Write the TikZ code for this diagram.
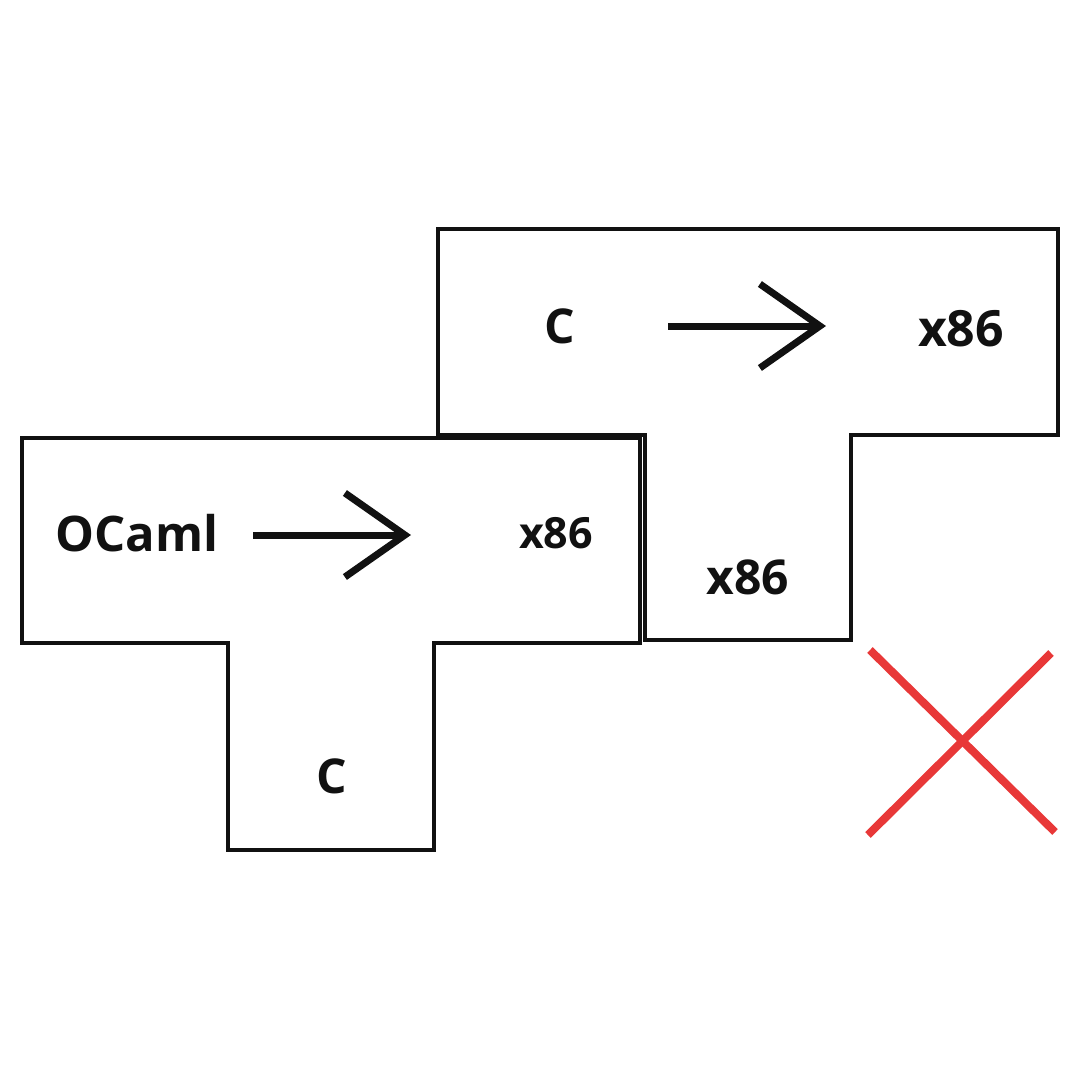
\documentclass[tikz,border=0pt]{standalone}
\usepackage{fontspec}
\setsansfont{Open Sans}
\usepackage{tikz}
\usetikzlibrary{arrows.meta}
\definecolor{ink}{RGB}{17,17,17}
\definecolor{cross}{RGB}{232,56,56}

\begin{document}
\begin{tikzpicture}[x=1pt, y=-1pt]
  \tikzset{
    tee/.style={draw=ink, line width=3.5pt, line join=miter},
    lang/.style={font=\sffamily\bfseries\fontsize{48}{52}\selectfont, text=ink, inner sep=0pt},
    into/.style={draw=ink, line width=7pt, -{Straight Barb[length=60pt, width=84pt, line width=7pt]}},
    nope/.style={draw=cross, line width=8pt}}

  \useasboundingbox (0,0) rectangle (1080,1080);

  % --- the C compiler written in x86 (behind)
  \draw[tee] (438,229) -- (1058,229) -- (1058,435) -- (851,435) -- (851,640)
    -- (645,640) -- (645,435) -- (438,435) -- cycle;
  \node[lang] (csrc) at (560,326) {C};
  \node[lang, font=\sffamily\bfseries\fontsize{50}{54}\selectfont] (cout) at (961,329) {x86};
  \node[lang] (cimpl) at (748,577) {x86};
  \coordinate (ca) at (668,326);
  \coordinate (cb) at (826,326);
  \draw[into] (ca) -- (cb);

  % --- the OCaml compiler written in C (front)
  \draw[tee, fill=white] (22,438) -- (640,438) -- (640,643) -- (434,643) -- (434,850)
    -- (228,850) -- (228,643) -- (22,643) -- cycle;
  \node[lang, font=\sffamily\bfseries\fontsize{49}{53}\selectfont] (osrc) at (137,533) {OCaml};
  \node[lang, font=\sffamily\bfseries\fontsize{43}{47}\selectfont] (oout) at (556,533) {x86};
  \node[lang] (oimpl) at (332,776) {C};
  \coordinate (oa) at (253,535);
  \coordinate (ob) at (411,535);
  \draw[into] (oa) -- (ob);

  % --- not allowed
  \coordinate (x1) at (870,650);
  \coordinate (x2) at (1055,832);
  \coordinate (x3) at (868,835);
  \coordinate (x4) at (1051,653);
  \draw[nope] (x1) -- (x2);
  \draw[nope] (x3) -- (x4);
\end{tikzpicture}
\end{document}
